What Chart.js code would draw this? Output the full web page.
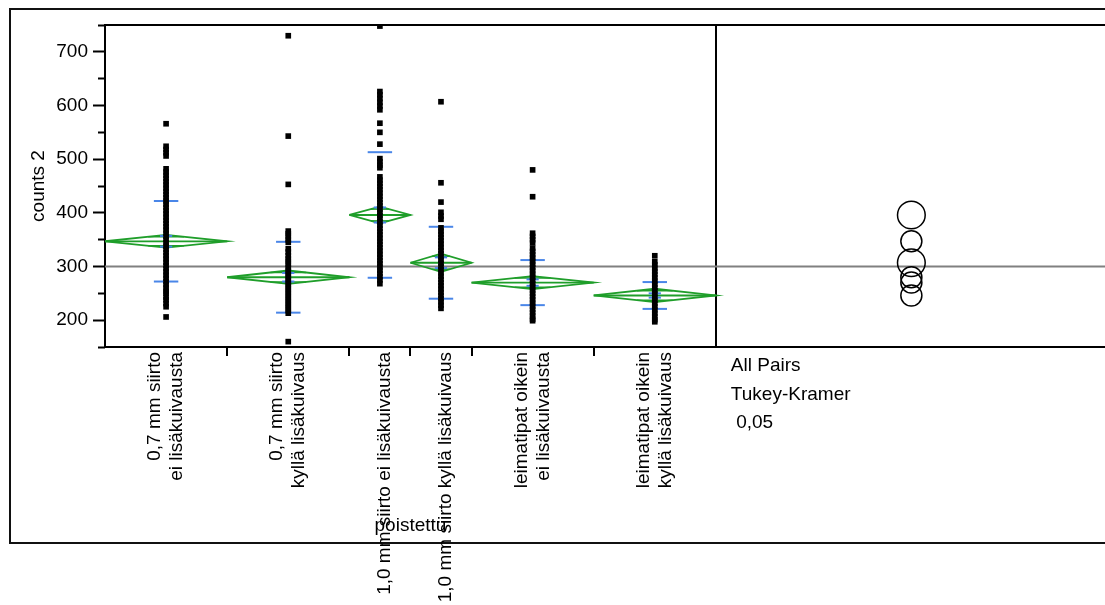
<!DOCTYPE html>
<html lang="fi">
<head>
  <meta charset="UTF-8">
  <title>counts 2 — Oneway</title>
  <script src="https://cdn.jsdelivr.net/npm/chart.js"></script>
  <style>
    html, body { margin: 0; padding: 0; background: #fff; }
    #wrap { width: 1105px; height: 605px; position: relative; }
  </style>
</head>
<body>
  <div id="wrap"><canvas id="oneway"></canvas></div>
  <script>
    // groups, widths follow group size (JMP style)
    const groupLabels = [
      ['0,7 mm siirto', 'ei lisäkuivausta'],
      ['0,7 mm siirto', 'kyllä lisäkuivaus'],
      ['', '1,0 mm siirto ei lisäkuivausta'],
      ['', '1,0 mm siirto kyllä lisäkuivaus'],
      ['leimatipat oikein', 'ei lisäkuivausta'],
      ['leimatipat oikein', 'kyllä lisäkuivaus']
    ];
    const groupWeights = [2, 2, 1, 1, 2, 2];

    // summary stats
    const groupMeans = [347, 280, 396, 307, 270, 246];
    const ciHalf = [12, 12.5, 15.5, 17, 12, 12.5];
    const stdDev = [75, 66, 117, 67, 42, 25];
    const stdErr = [10, 8, 14, 10, 6, 4];
    const grandMean = 300;
    const circleRadius = [19.6, 19.6, 25.8, 25.8, 19.6, 19.6];

    // raw values per group
    const pts07Ei = [566, 524, 518, 512, 506,
      482, 476, 470, 464, 458, 452, 446, 440, 434, 428, 422, 416, 410, 404, 398, 392, 386, 380, 374, 368,
      362, 356, 350, 344, 338, 332, 326, 320, 314, 308, 302, 296, 290, 284, 278, 272, 266, 260, 254, 250,
      243, 238, 231, 225, 206];
    const pts07Kylla = [730, 543, 453, 366, 361, 356, 350, 345, 333, 327, 320, 314, 309,
      304, 298, 293, 288, 283, 278, 273, 268, 263, 258, 253, 248, 243, 238, 233, 228, 223, 218, 213, 160];
    const pts10Ei = [748, 626, 620, 613, 606, 599, 592, 567, 550, 528, 501, 495, 489, 484,
      467, 461, 455, 449, 443, 437, 431, 425, 419, 413, 407, 401, 395, 389, 383, 377, 371, 365, 359, 353,
      347, 341, 335, 329, 323, 317, 311, 305, 299, 293, 287, 281, 275, 268];
    const pts10Kylla = [607, 456, 420, 401, 394, 388,
      372, 366, 360, 354, 348, 342, 336, 330, 324, 318, 312, 306, 300, 294, 288, 282, 276, 270, 264, 258,
      252, 246, 240, 234, 228, 222];
    const ptsLeimaEi = [480, 430, 362, 356, 350, 344, 334, 328, 322, 316, 310, 304, 298, 292, 286, 280,
      274, 268, 262, 256, 250, 244, 238, 232, 226, 220, 214, 208, 202, 199];
    const ptsLeimaKylla = [320, 309, 303, 297, 291, 285, 279, 273, 267, 261, 255, 249, 243, 237, 231,
      225, 219, 213, 207, 201, 197];
    const groupPoints = [pts07Ei, pts07Kylla, pts10Ei, pts10Kylla, ptsLeimaEi, ptsLeimaKylla];

    const yMin = 150, yMax = 750;
    const yMajorTicks = [200, 300, 400, 500, 600, 700];
    const yMinorTicks = [150, 250, 350, 450, 550, 650, 750];

    const xMax = 16.37;   // comparison circles panel runs off the right edge
    const circleX = 13.2;

    const bounds = [0];
    groupWeights.forEach(w => bounds.push(bounds[bounds.length - 1] + w));
    const centers = groupWeights.map((w, i) => bounds[i] + w / 2);
    const splitX = bounds[bounds.length - 1];
    const innerBounds = bounds.slice(1, -1);
    const xTicks = [...innerBounds, splitX, ...centers].sort((a, b) => a - b);

    const black = '#000', green = '#1f9e2a', blue = '#4a86e8', grey = '#808080';
    const clear = 'rgba(0,0,0,0)';
    const font = 'Liberation Sans, Arial, sans-serif';

    function seg(x1, y1, x2, y2, color, width) {
      return { data: [{ x: x1, y: y1 }, { x: x2, y: y2 }], showLine: true, pointRadius: 0,
        borderColor: color, borderWidth: width, fill: false };
    }

    const datasets = [];

    datasets.push({
      label: 'counts 2',
      data: groupPoints.flatMap((vals, i) => vals.map(v => ({ x: centers[i], y: v }))),
      pointStyle: 'rect', pointRadius: 4, backgroundColor: black, borderWidth: 0, showLine: false
    });

    // comparison circles
    datasets.push({
      data: groupMeans.map(m => ({ x: circleX, y: m })),
      showLine: false, pointStyle: 'circle', backgroundColor: clear, borderColor: black, borderWidth: 1.5,
      pointRadius: ctx => {
        const s = ctx.chart.scales.y;
        return Math.abs(s.getPixelForValue(0) - s.getPixelForValue(circleRadius[ctx.dataIndex] || 0));
      }
    });

    groupMeans.forEach((m, i) => {
      const c = centers[i], l = bounds[i], r = bounds[i + 1];
      // std dev lines
      datasets.push(seg(c - 0.2, m + stdDev[i], c + 0.2, m + stdDev[i], blue, 2));
      datasets.push(seg(c - 0.2, m - stdDev[i], c + 0.2, m - stdDev[i], blue, 2));
      // mean error bars
      datasets.push(seg(c - 0.1, m + stdErr[i], c + 0.1, m + stdErr[i], blue, 2));
      datasets.push(seg(c - 0.1, m - stdErr[i], c + 0.1, m - stdErr[i], blue, 2));
      datasets.push(seg(c, m - stdErr[i], c, m + stdErr[i], blue, 2));
      // means diamond
      datasets.push({
        data: [{ x: l, y: m }, { x: c, y: m + ciHalf[i] }, { x: r, y: m }, { x: c, y: m - ciHalf[i] }, { x: l, y: m }],
        showLine: true, pointRadius: 0, borderColor: green, borderWidth: 1.8, fill: false
      });
      datasets.push(seg(l, m, r, m, green, 1.8));
      // overlap marks
      const k = Math.SQRT1_2, hw = (r - l) / 2 * (1 - k);
      datasets.push(seg(c - hw, m + ciHalf[i] * k, c + hw, m + ciHalf[i] * k, green, 1.5));
      datasets.push(seg(c - hw, m - ciHalf[i] * k, c + hw, m - ciHalf[i] * k, green, 1.5));
    });

    datasets.push(seg(0, grandMean, xMax, grandMean, grey, 2));

    const extras = {
      id: 'jmpExtras',
      beforeDraw(chart) {
        const ctx = chart.ctx;
        ctx.save();
        ctx.strokeStyle = '#111';
        ctx.lineWidth = 2;
        ctx.beginPath();
        ctx.moveTo(chart.width, 9);
        ctx.lineTo(10, 9);
        ctx.lineTo(10, 543);
        ctx.lineTo(chart.width, 543);
        ctx.stroke();
        ctx.restore();
      },
      afterDraw(chart) {
        const ctx = chart.ctx, xs = chart.scales.x, area = chart.chartArea;
        const px = xs.getPixelForValue(splitX);
        ctx.save();
        ctx.fillStyle = black;
        ctx.font = '19px ' + font;
        ctx.textBaseline = 'alphabetic';
        ctx.textAlign = 'left';
        ctx.fillText('All Pairs', px + 15, area.bottom + 24);
        ctx.fillText('Tukey-Kramer', px + 15, area.bottom + 53);
        ctx.fillText(' 0,05', px + 15, area.bottom + 81);
        ctx.textAlign = 'center';
        ctx.fillText('poistettu', xs.getPixelForValue(bounds[3]), area.bottom + 184);
        ctx.restore();
      }
    };

    Chart.defaults.font.family = font;
    Chart.defaults.font.size = 19;
    Chart.defaults.color = black;

    new Chart(document.getElementById('oneway'), {
      type: 'scatter',
      data: { datasets },
      options: {
        responsive: true,
        maintainAspectRatio: false,
        animation: false,
        events: [],
        layout: { autoPadding: false, padding: { top: 25, left: 0, right: 0, bottom: 0 } },
        plugins: { legend: { display: false }, tooltip: { enabled: false } },
        scales: {
          x: {
            type: 'linear', position: 'bottom', min: 0, max: xMax,
            afterBuildTicks: s => { s.ticks = xTicks.map(v => ({ value: v })); },
            afterFit: s => { s.height = 605 - 347; s.paddingLeft = 0; s.paddingRight = 0; },
            grid: {
              drawOnChartArea: true, drawTicks: true, tickLength: 9, lineWidth: 2, tickWidth: 2,
              color: c => (c.tick && c.tick.value === splitX ? black : clear),
              tickColor: c => (c.tick && innerBounds.includes(c.tick.value) ? black : clear)
            },
            border: { display: true, color: black, width: 2 },
            ticks: {
              autoSkip: false, minRotation: 90, maxRotation: 90, padding: -4, labelOffset: -11, color: black,
              font: c => ({ size: 19, lineHeight: (c.tick && groupLabels[centers.indexOf(c.tick.value)] &&
                groupLabels[centers.indexOf(c.tick.value)][0] === '') ? '16px' : '22px' }),
              callback: v => { const i = centers.indexOf(v); return i < 0 ? '' : groupLabels[i]; }
            }
          },
          xTop: {
            type: 'linear', position: 'top', min: 0, max: xMax,
            afterFit: s => { s.height = 0; s.paddingLeft = 0; s.paddingRight = 0; },
            ticks: { display: false },
            grid: { drawOnChartArea: false, drawTicks: false, color: clear },
            border: { display: true, color: black, width: 2 }
          },
          y: {
            type: 'linear', position: 'left', min: yMin, max: yMax, weight: 1,
            afterBuildTicks: s => { s.ticks = yMajorTicks.map(v => ({ value: v })); },
            afterFit: s => { s.width = 105; },
            ticks: { padding: 5, color: black, font: { size: 19 } },
            grid: { drawOnChartArea: false, tickLength: 12, tickWidth: 2, tickColor: black },
            border: { color: black, width: 2 },
            title: { display: true, text: 'counts 2', color: black, font: { size: 19 }, padding: { top: 27, bottom: 0 } }
          },
          yMinor: {
            type: 'linear', position: 'left', min: yMin, max: yMax, weight: 0,
            afterBuildTicks: s => { s.ticks = yMinorTicks.map(v => ({ value: v })); },
            afterFit: s => { s.width = 0; },
            ticks: { display: false },
            grid: { drawOnChartArea: false, tickLength: 7, tickWidth: 2, tickColor: black },
            border: { display: false }
          }
        }
      },
      plugins: [extras]
    });
  </script>
</body>
</html>
